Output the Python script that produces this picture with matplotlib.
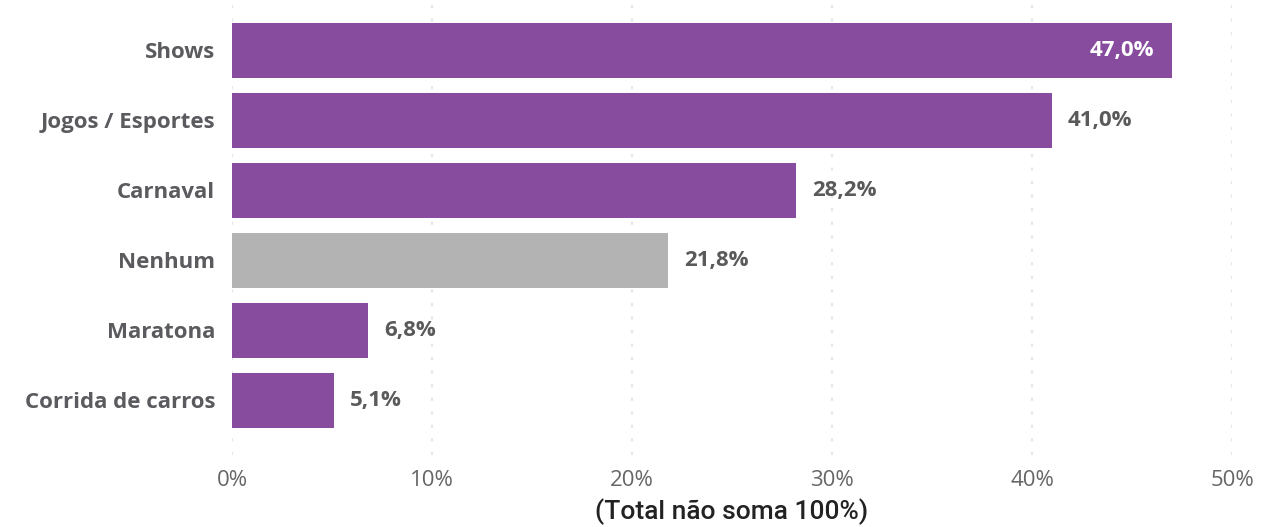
import matplotlib.pyplot as plt
import numpy as np

# Dados
categorias = ["Shows", "Jogos / Esportes", "Carnaval", "Nenhum", "Maratona", "Corrida de carros"]
valores = [47.0, 41.0, 28.2, 21.8, 6.8, 5.1]
cores = ["#874c9e", "#874c9e", "#874c9e", "#b3b3b3", "#874c9e", "#874c9e"]
ticks_x = [0, 10, 20, 30, 40, 50]
rotulo_x = "(Total não soma 100%)"

plt.rcParams['font.family'] = ['Open Sans', 'DejaVu Sans']

fig = plt.figure(figsize=(12.81, 5.27), dpi=100)
ax = fig.add_axes([232 / 1281, 1 - 455 / 527, 1000 / 1281, 455 / 527])

y = np.arange(len(categorias))
ax.barh(y, valores, height=0.786, color=cores, zorder=2)

ax.set_xlim(0, 50)
ax.set_ylim(5.78, -0.72)
ax.set_yticks(y)
ax.set_yticklabels(categorias, fontsize=16, fontweight='bold', color='#5a5a5f')
ax.set_xticks(ticks_x)
ax.set_xticklabels([f"{t}%" for t in ticks_x], fontsize=16, color='#666666')
ax.tick_params(axis='both', length=0)
ax.tick_params(axis='y', pad=12)
ax.tick_params(axis='x', pad=11)

for s in ax.spines.values():
    s.set_visible(False)

ax.grid(axis='x', color='#e4e4f2', linestyle=(0, (1.5, 5)), linewidth=1.5, zorder=0)

# Rótulos dos valores
for i, v in enumerate(valores):
    txt = f"{v:.1f}%".replace(".", ",")
    if v == max(valores):
        ax.text(v - 0.9, i, txt, ha='right', va='center', fontsize=16,
                fontweight='bold', color='white', zorder=3)
    else:
        ax.text(v + 0.8, i, txt, ha='left', va='center', fontsize=16,
                fontweight='bold', color='#5a5a5a', zorder=3)

ax.set_xlabel(rotulo_x, fontsize=19, color='#222222', fontweight='medium',
              family=['Roboto', 'DejaVu Sans'], labelpad=5)

fig.savefig("out.png", dpi=100)
